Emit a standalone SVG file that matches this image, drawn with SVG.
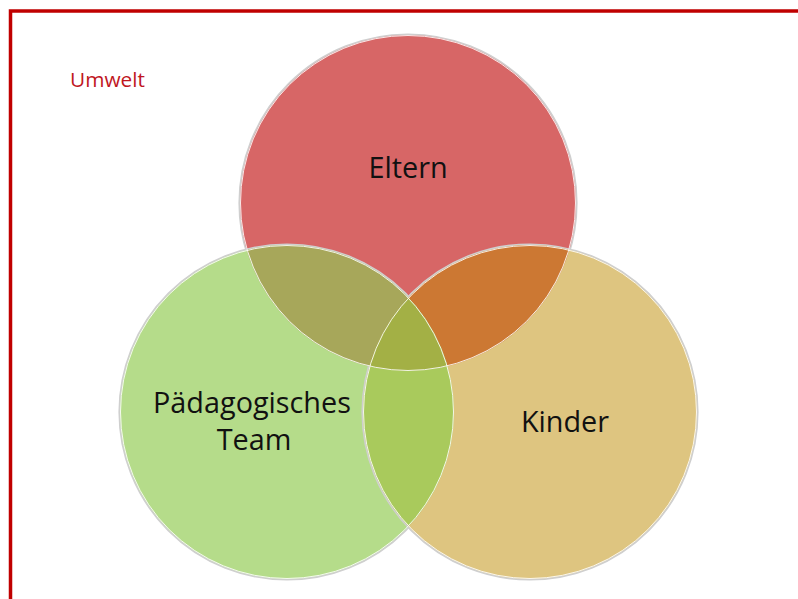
<svg xmlns="http://www.w3.org/2000/svg" width="798" height="599" viewBox="0 0 798 599">
<style>
.lbl{font-family:"Open Sans","Noto Sans","DejaVu Sans",sans-serif;font-size:28.8px;fill:#111;text-anchor:middle}
.env{font-family:"Open Sans","Noto Sans","DejaVu Sans",sans-serif;font-size:20.8px;fill:#C0161E}
.halo{fill:none;stroke:#cfcfcf;stroke-width:2.2}
.edge{fill:none;stroke:#ffffff;stroke-width:1;stroke-opacity:0.85}
</style>
<defs>
<clipPath id="cE"><circle cx="408" cy="203" r="168"/></clipPath>
<clipPath id="cG"><circle cx="287" cy="412" r="167"/></clipPath>
<clipPath id="cK"><circle cx="530" cy="412" r="167"/></clipPath>
</defs>
<rect x="0" y="0" width="798" height="599" fill="#ffffff"/>
<path d="M10.5 610 V11 H810" fill="none" stroke="#C00000" stroke-width="3.5"/>
<text class="env" x="70" y="87">Umwelt</text>

<g id="eltern">
<circle class="halo" cx="408" cy="203" r="168.5"/>
<circle cx="408" cy="203" r="168" fill="#D76666"/>
</g>
<g id="team">
<circle class="halo" cx="287" cy="412" r="167.5"/>
<circle cx="287" cy="412" r="167" fill="#B5DC8A"/>
</g>
<g id="kinder">
<circle class="halo" cx="530" cy="412" r="167.5"/>
<circle cx="530" cy="412" r="167" fill="#DEC580"/>
</g>
<g id="overlaps">
<g clip-path="url(#cE)"><circle cx="287" cy="412" r="167" fill="#A7A75A"/></g>
<g clip-path="url(#cE)"><circle cx="530" cy="412" r="167" fill="#CC7833"/></g>
<g clip-path="url(#cG)"><circle cx="530" cy="412" r="167" fill="#A9CA5C"/></g>
<g clip-path="url(#cE)"><g clip-path="url(#cG)"><circle cx="530" cy="412" r="167" fill="#A3B045"/></g></g>
</g>
<g id="edges">
<circle class="edge" cx="408" cy="203" r="167.5" stroke-opacity="0.3"/>
<circle class="edge" cx="287" cy="412" r="166.5" stroke-opacity="0.5"/>
<circle class="edge" cx="530" cy="412" r="166.5"/>
</g>
<g id="labels">
<text class="lbl" x="408" y="178">Eltern</text>
<text class="lbl" x="252" y="413">Pädagogisches</text>
<text class="lbl" x="254" y="450">Team</text>
<text class="lbl" x="565" y="432">Kinder</text>
</g>
</svg>
